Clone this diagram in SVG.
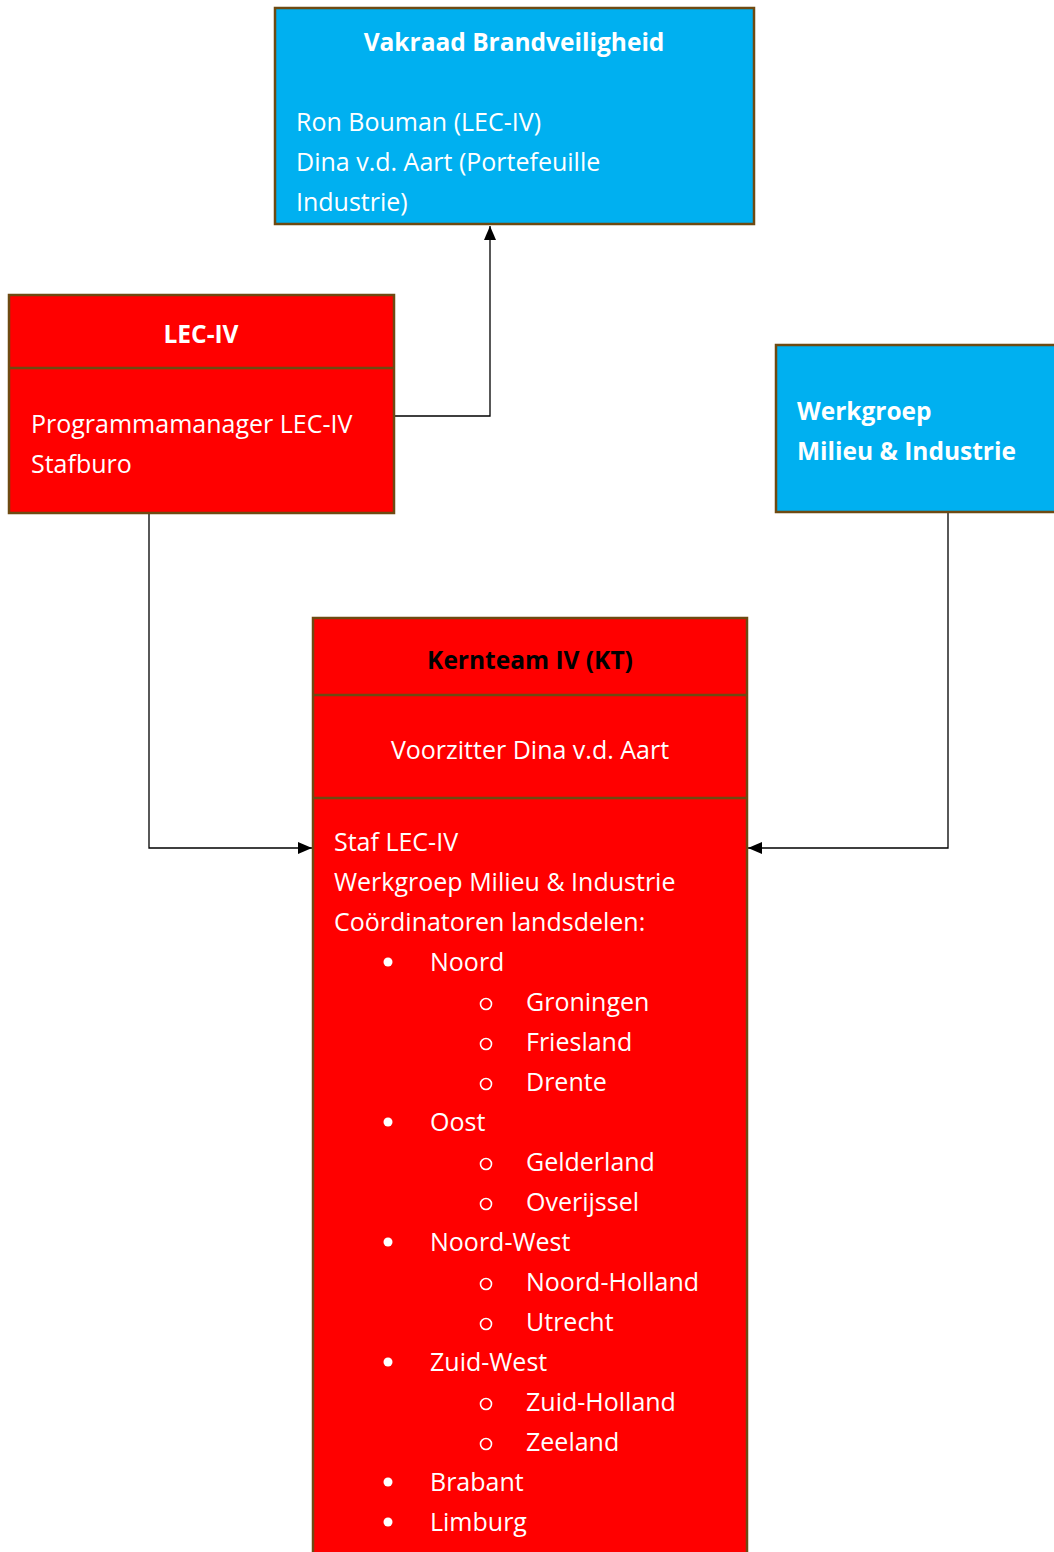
<svg xmlns="http://www.w3.org/2000/svg" width="1054" height="1552" viewBox="0 0 1054 1552">
<defs>
<marker id="arr" viewBox="0 0 14 12" refX="14" refY="6" markerWidth="14" markerHeight="12" markerUnits="userSpaceOnUse" orient="auto">
<path d="M0,0 L14,6 L0,12 z" fill="#000"/>
</marker>
<style>
.box{stroke:#6E4A12;stroke-width:2.5}
.blue{fill:#00B0F0}
.red{fill:#FF0000}
.div{stroke:#6E4A12;stroke-width:2.5}
text{font-family:"Open Sans","Noto Sans",sans-serif;font-size:25px;fill:#fff}
.b{font-weight:bold;font-size:24.5px}
.c{text-anchor:middle}
.k{fill:#000}
.con{fill:none;stroke:#000;stroke-width:1.3}
</style>
</defs>
<g id="connectors">
<path class="con" d="M394,416 H490 V226" marker-end="url(#arr)"/>
<path class="con" d="M149,513 V848 H312" marker-end="url(#arr)"/>
<path class="con" d="M948,512 V848 H748" marker-end="url(#arr)"/>
</g>
<g id="vakraad">
<rect class="box blue" x="275" y="8" width="479" height="216"/>
<text class="b c" x="514" y="51">Vakraad Brandveiligheid</text>
<text x="296" y="131">Ron Bouman (LEC-IV)</text>
<text x="296" y="171">Dina v.d. Aart (Portefeuille</text>
<text x="296" y="211">Industrie)</text>
</g>
<g id="leciv">
<rect class="box red" x="9" y="295" width="385" height="218"/>
<line class="div" x1="9" y1="368" x2="394" y2="368"/>
<text class="b c" x="201" y="343">LEC-IV</text>
<text x="31" y="433">Programmamanager LEC-IV</text>
<text x="31" y="473">Stafburo</text>
</g>
<g id="werkgroep">
<rect class="box blue" x="776" y="345" width="290" height="167"/>
<text class="b" x="797" y="420">Werkgroep</text>
<text class="b" x="797" y="460">Milieu &amp; Industrie</text>
</g>
<g id="kernteam">
<rect class="box red" x="313" y="618" width="434" height="950"/>
<line class="div" x1="313" y1="695" x2="747" y2="695"/>
<line class="div" x1="313" y1="798" x2="747" y2="798"/>
<text class="b c k" x="530" y="669">Kernteam IV (KT)</text>
<text class="c" x="530" y="759">Voorzitter Dina v.d. Aart</text>
<text x="334" y="851">Staf LEC-IV</text>
<text x="334" y="891">Werkgroep Milieu &amp; Industrie</text>
<text x="334" y="931">Coördinatoren landsdelen:</text>
<g fill="#fff">
<circle cx="388" cy="962" r="4.5"/>
<circle cx="388" cy="1122" r="4.5"/>
<circle cx="388" cy="1242" r="4.5"/>
<circle cx="388" cy="1362" r="4.5"/>
<circle cx="388" cy="1482" r="4.5"/>
<circle cx="388" cy="1522" r="4.5"/>
</g>
<g fill="none" stroke="#fff" stroke-width="1.6">
<circle cx="486" cy="1004" r="5.5"/>
<circle cx="486" cy="1044" r="5.5"/>
<circle cx="486" cy="1084" r="5.5"/>
<circle cx="486" cy="1164" r="5.5"/>
<circle cx="486" cy="1204" r="5.5"/>
<circle cx="486" cy="1284" r="5.5"/>
<circle cx="486" cy="1324" r="5.5"/>
<circle cx="486" cy="1404" r="5.5"/>
<circle cx="486" cy="1444" r="5.5"/>
</g>
<text x="430" y="971">Noord</text>
<text x="526" y="1011">Groningen</text>
<text x="526" y="1051">Friesland</text>
<text x="526" y="1091">Drente</text>
<text x="430" y="1131">Oost</text>
<text x="526" y="1171">Gelderland</text>
<text x="526" y="1211">Overijssel</text>
<text x="430" y="1251">Noord-West</text>
<text x="526" y="1291">Noord-Holland</text>
<text x="526" y="1331">Utrecht</text>
<text x="430" y="1371">Zuid-West</text>
<text x="526" y="1411">Zuid-Holland</text>
<text x="526" y="1451">Zeeland</text>
<text x="430" y="1491">Brabant</text>
<text x="430" y="1531">Limburg</text>
</g>
</svg>
